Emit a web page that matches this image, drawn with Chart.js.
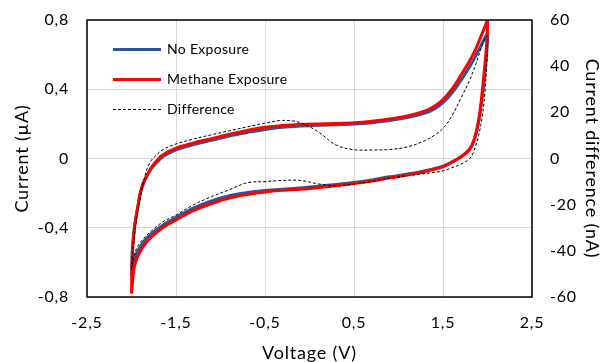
<!DOCTYPE html>
<html>
<head>
<meta charset="utf-8">
<script src="https://cdn.jsdelivr.net/npm/chart.js@4/dist/chart.umd.min.js"></script>
<style>
  body { margin: 0; background: #fff; }
  #wrap { position: relative; width: 604px; height: 362px; overflow: hidden; }
  #legend { position: absolute; left: 113px; top: 38px; font-family: Lato, sans-serif; font-size: 14px; color: #000; letter-spacing: 0.3px; }
  .item { position: relative; height: 30px; line-height: 22px; }
  .item span.line { position: absolute; left: 0; top: 10px; width: 48px; }
  .item span.txt { position: absolute; left: 54px; top: 0; white-space: nowrap; }
</style>
</head>
<body>
<div id="wrap">
  <canvas id="cv" width="604" height="362"></canvas>
  <div id="legend">
    <div class="item"><span class="line" style="border-top:3px solid #2f5597"></span><span class="txt">No Exposure</span></div>
    <div class="item"><span class="line" style="border-top:3px solid #ff0000"></span><span class="txt">Methane Exposure</span></div>
    <div class="item"><span class="line" style="border-top:1px dashed #000;top:11px"></span><span class="txt">Difference</span></div>
  </div>
</div>
<script>
// forward scan -2 -> 2, then reverse 2 -> -2
const voltage = [
  -2.0, -1.99, -1.97, -1.95, -1.92, -1.9, -1.87, -1.83, -1.78, -1.72, -1.65, -1.5, -1.3, -1.1, -0.9, -0.7,
  -0.5, -0.3, -0.1, 0.1, 0.3, 0.5, 0.7, 0.9, 1.1, 1.3, 1.4, 1.5, 1.6, 1.7, 1.8, 1.87, 1.93, 1.97, 2.0,
  1.99, 1.97, 1.94, 1.9, 1.85, 1.8, 1.7, 1.6, 1.5, 1.3, 1.1, 0.9, 0.7, 0.5, 0.3, 0.1,
  -0.1, -0.3, -0.5, -0.7, -0.9, -1.1, -1.3, -1.5, -1.65, -1.78, -1.87, -1.93, -1.97, -2.0
];
const noExposure = [
  -0.68, -0.52, -0.41, -0.34, -0.255, -0.2, -0.15, -0.105, -0.062, -0.025, 0.01, 0.05, 0.08, 0.105, 0.13, 0.15,
  0.168, 0.18, 0.187, 0.192, 0.195, 0.199, 0.207, 0.22, 0.236, 0.262, 0.285, 0.322, 0.378, 0.45, 0.53, 0.595, 0.655, 0.695, 0.72,
  0.6, 0.49, 0.35, 0.21, 0.105, 0.052, 0.008, -0.02, -0.044, -0.07, -0.09, -0.106, -0.124, -0.139, -0.15, -0.16,
  -0.17, -0.177, -0.185, -0.197, -0.215, -0.245, -0.285, -0.34, -0.385, -0.435, -0.485, -0.535, -0.58, -0.68
];
const methaneExposure = [
  -0.78, -0.55, -0.42, -0.34, -0.25, -0.195, -0.145, -0.1, -0.055, -0.015, 0.02, 0.06, 0.09, 0.115, 0.14, 0.162,
  0.18, 0.191, 0.197, 0.2, 0.202, 0.206, 0.215, 0.228, 0.245, 0.275, 0.3, 0.34, 0.4, 0.48, 0.565, 0.635, 0.71, 0.76, 0.8,
  0.66, 0.54, 0.38, 0.22, 0.11, 0.055, 0.01, -0.022, -0.048, -0.075, -0.095, -0.112, -0.13, -0.145, -0.158, -0.168,
  -0.177, -0.184, -0.193, -0.208, -0.228, -0.26, -0.3, -0.355, -0.4, -0.455, -0.51, -0.565, -0.63, -0.78
];
// nA, right axis
const difference = [
  -48, -42, -34, -28, -21, -17, -11, -5, -1, 1.5, 3.8, 6.3, 8.5, 10.3, 12, 13.7,
  15.3, 16.5, 15.5, 11.5, 5.8, 3.8, 3.7, 3.9, 5, 7.8, 10, 13, 18.5, 26, 34, 41, 48, 52, 53,
  40, 28, 18, 10, 3.5, 0, -2.5, -4, -5.4, -6.5, -7.5, -8.5, -10, -11, -11.8, -11,
  -9.5, -9.5, -10, -10.5, -13.5, -16.5, -20, -24.5, -27.5, -31.5, -35, -38, -42, -48
];

const pts = (arr) => voltage.map((v, i) => ({ x: v, y: arr[i] }));
const comma = (v) => Math.abs(v) < 1e-9 ? '0' : (Number.isInteger(v) ? String(v) : v.toFixed(1).replace('.', ','));

const tickFont = { family: 'Lato, sans-serif', size: 16 };
const titleFont = { family: 'Lato, sans-serif', size: 18 };

const boxPlugin = {
  id: 'box',
  beforeDraw(chart) {
    chart.ctx.letterSpacing = '0.8px';
  },
  afterDatasetsDraw(chart) {
    const a = chart.chartArea, c = chart.ctx;
    c.save();
    c.strokeStyle = '#000';
    c.lineWidth = 1.5;
    c.strokeRect(a.left, a.top, a.right - a.left, a.bottom - a.top);
    c.restore();
  }
};

const fitY = (w) => (s) => { s.width = w; s.paddingTop = 0; s.paddingBottom = 0; };

new Chart('cv', {
  type: 'scatter',
  data: {
    datasets: [
      { label: 'Difference', data: pts(difference), yAxisID: 'y2', showLine: true, borderColor: '#000',
        borderWidth: 1, borderDash: [3, 2], pointRadius: 0, tension: 0.35, fill: false },
      { label: 'Methane Exposure', data: pts(methaneExposure), yAxisID: 'y', showLine: true, borderColor: '#ff0000',
        borderWidth: 3, pointRadius: 0, tension: 0.35, fill: false },
      { label: 'No Exposure', data: pts(noExposure), yAxisID: 'y', showLine: true, borderColor: '#2f5597',
        borderWidth: 3, pointRadius: 0, tension: 0.35, fill: false }
    ]
  },
  options: {
    responsive: false,
    animation: false,
    devicePixelRatio: 1,
    layout: { padding: { top: 20, left: 0, right: 0, bottom: 0 } },
    plugins: { legend: { display: false }, tooltip: { enabled: false } },
    scales: {
      x: {
        type: 'linear', min: -2.5, max: 2.5,
        ticks: { stepSize: 1, color: '#000', font: tickFont, padding: 16, callback: comma },
        grid: { color: '#d9d9d9', drawTicks: false },
        border: { display: false },
        title: { display: true, text: 'Voltage (V)', color: '#000', font: titleFont, padding: { top: 0, bottom: -2 } },
        afterFit: (s) => { s.height = 65; }
      },
      y: {
        position: 'left', min: -0.8, max: 0.8,
        ticks: { stepSize: 0.4, color: '#000', font: tickFont, padding: 18, callback: comma },
        grid: { color: '#d9d9d9', drawTicks: false },
        border: { display: false },
        title: { display: true, text: 'Current (µA)', color: '#000', font: titleFont, padding: { top: 11, bottom: 0 } },
        afterFit: fitY(87)
      },
      y2: {
        position: 'right', min: -60, max: 60,
        ticks: { stepSize: 20, color: '#000', font: tickFont, padding: 18, callback: comma },
        grid: { drawOnChartArea: false, drawTicks: false },
        border: { display: false },
        title: { display: true, text: 'Current difference (nA)', color: '#000', font: titleFont, padding: { top: 1, bottom: 0 } },
        afterFit: fitY(72)
      }
    }
  },
  plugins: [boxPlugin]
});
</script>
</body>
</html>
